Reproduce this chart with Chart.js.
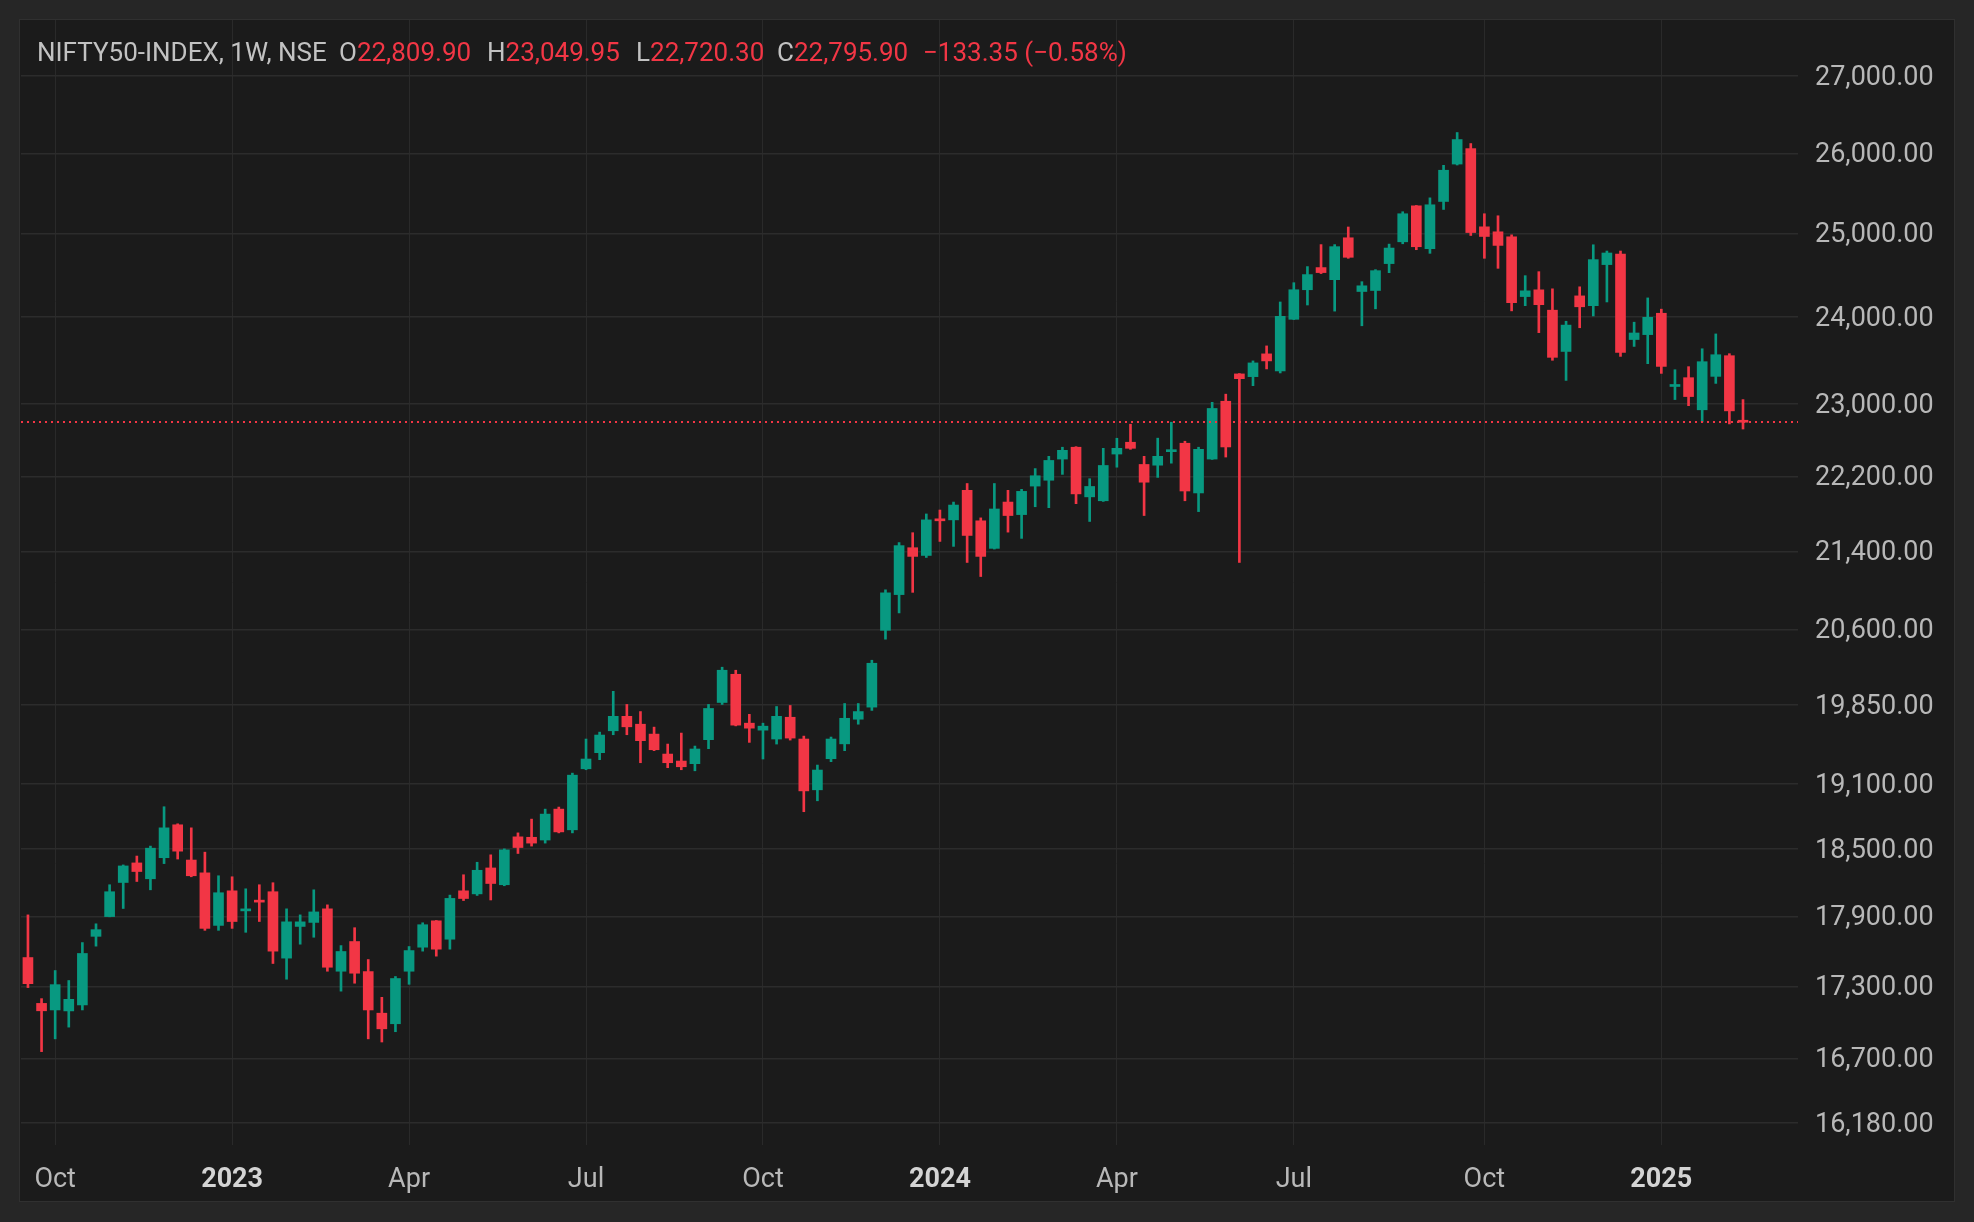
<!DOCTYPE html>
<html>
<head>
<meta charset="utf-8">
<script src="https://cdn.jsdelivr.net/npm/chart.js@4.4.1/dist/chart.umd.min.js"></script>
<style>
  html, body { margin: 0; padding: 0; width: 1974px; height: 1222px; background: #262626; overflow: hidden; }
  #panel { position: absolute; left: 19px; top: 19px; width: 1936px; height: 1183px; box-sizing: border-box;
           border: 1px solid #303030; background: #1b1b1b; }
  #wrap { position: absolute; left: 20px; top: 20px; width: 1934px; height: 1180px; }
  #legend { position: absolute; left: 0; top: 0; font-family: Roboto, "Noto Sans", sans-serif; font-size: 26px; color: #c2c2c2; }
  #legend span { position: absolute; top: 38px; white-space: nowrap; line-height: 28px; }
  .dn { color: #f23645; }
</style>
</head>
<body>
<div id="panel"></div>
<div id="wrap"><canvas id="c" width="1934" height="1180"></canvas></div>
<div id="legend">
  <span style="left:37px">NIFTY50-INDEX, 1W, NSE</span>
  <span style="left:339px">O<i class="dn" style="font-style:normal">22,809.90</i></span>
  <span style="left:487px">H<i class="dn" style="font-style:normal">23,049.95</i></span>
  <span style="left:636px">L<i class="dn" style="font-style:normal">22,720.30</i></span>
  <span style="left:777px">C<i class="dn" style="font-style:normal">22,795.90</i></span>
  <span class="dn" style="left:923px">−133.35 (−0.58%)</span>
</div>
<script>
// weekly candles, first bar = week of 19 Sep 2022
const firstWeek = '2022-09-19';

const opens = [
  17545, 17156, 17101, 17093, 17143, 17728, 17900, 18201, 18376, 18234, 18423, 18722, 18402, 18287, 17823, 18127,
  17950, 18040, 18119, 17540, 17814, 17849, 17968, 17428, 17683, 17425, 17074, 16986, 17428, 17634, 17863, 17703,
  18127, 18100, 18331, 18181, 18612, 18608, 18583, 18866, 18676, 19242, 19394, 19603, 19742, 19666, 19571, 19381,
  19315, 19290, 19518, 19876, 20152, 19676, 19609, 19524, 19733, 19524, 19045, 19337, 19478, 19714, 19831, 20590,
  20953, 21439, 21358, 21744, 21733, 22049, 21723, 21432, 21923, 21789, 22095, 22158, 22389, 22519, 21979, 21937,
  22444, 22574, 22330, 22322, 22470, 22563, 22021, 22389, 23031, 23341, 23310, 23571, 23375, 23973, 24322, 24587,
  24442, 24948, 24301, 24313, 24635, 24899, 25341, 24815, 25395, 25864, 26060, 25082, 25021, 24960, 24241, 24321,
  24080, 23599, 24249, 24133, 24623, 24751, 23737, 23794, 24044, 23198, 23298, 22935, 23313, 23550, 22809.90
];
const highs = [
  17915, 17196, 17434, 17349, 17674, 17837, 18181, 18358, 18438, 18528, 18888, 18731, 18694, 18473, 18261, 18252,
  18145, 18181, 18199, 17968, 17915, 18136, 18003, 17648, 17803, 17528, 17207, 17383, 17640, 17846, 17866, 18089,
  18270, 18382, 18449, 18503, 18648, 18774, 18866, 18885, 19201, 19524, 19590, 19985, 19857, 19788, 19638, 19476,
  19581, 19457, 19857, 20222, 20192, 19761, 19676, 19837, 19847, 19552, 19277, 19543, 19866, 19866, 20291, 21002,
  21493, 21597, 21796, 21838, 21923, 22123, 21754, 22123, 22049, 22060, 22285, 22419, 22519, 22525, 22175, 22507,
  22618, 22774, 22419, 22619, 22796, 22585, 22519, 23019, 23111, 23345, 23490, 23663, 24177, 24406, 24599, 24865,
  24865, 25080, 24418, 24562, 24871, 25268, 25345, 25440, 25848, 26266, 26125, 25243, 25218, 24984, 24490, 24538,
  24333, 23950, 24357, 24863, 24787, 24787, 23939, 24225, 24092, 23389, 23424, 23630, 23802, 23573, 23049.95
];
const lows = [
  17289, 16756, 16861, 16958, 17101, 17643, 17898, 17971, 18210, 18136, 18370, 18411, 18252, 17780, 17780, 17797,
  17763, 17857, 17494, 17360, 17660, 17720, 17428, 17259, 17326, 16861, 16835, 16920, 17317, 17600, 17557, 17617,
  18041, 18086, 18046, 18172, 18461, 18528, 18555, 18648, 18648, 19233, 19328, 19565, 19565, 19299, 19413, 19252,
  19233, 19223, 19432, 19857, 19650, 19492, 19334, 19476, 19514, 18842, 18943, 19309, 19413, 19666, 19799, 20501,
  20766, 20976, 21337, 21505, 21453, 21285, 21139, 21425, 21603, 21537, 21873, 21863, 22222, 21906, 21716, 21930,
  22300, 22496, 21779, 22189, 22344, 21937, 21821, 22385, 22411, 21285, 23207, 23398, 23352, 23970, 24141, 24515,
  24069, 24699, 23897, 24096, 24526, 24875, 24803, 24759, 25296, 25852, 24976, 24699, 24578, 24072, 24133, 23817,
  23497, 23267, 23874, 24012, 24177, 23542, 23657, 23458, 23347, 23050, 22981, 22800, 23233, 22777, 22720.30
];
const closes = [
  17322, 17094, 17314, 17190, 17580, 17786, 18119, 18349, 18299, 18509, 18694, 18482, 18261, 17797, 18110, 17857,
  17962, 18027, 17600, 17854, 17854, 17941, 17462, 17597, 17411, 17101, 16944, 17366, 17605, 17829, 17617, 18060,
  18059, 18310, 18192, 18494, 18515, 18555, 18820, 18657, 19182, 19334, 19562, 19742, 19641, 19508, 19422, 19299,
  19261, 19429, 19818, 20192, 19657, 19628, 19647, 19742, 19533, 19035, 19230, 19524, 19723, 19788, 20261, 20971,
  21461, 21348, 21733, 21723, 21891, 21568, 21348, 21849, 21779, 22038, 22207, 22374, 22485, 22011, 22091, 22319,
  22507, 22507, 22137, 22419, 22485, 22042, 22496, 22950, 22522, 23287, 23467, 23490, 24008, 24322, 24503, 24527,
  24840, 24711, 24369, 24550, 24823, 25243, 24839, 25354, 25786, 26176, 25012, 24964, 24855, 24169, 24309, 24145,
  23531, 23905, 24120, 24683, 24763, 23588, 23813, 23996, 23427, 23218, 23084, 23481, 23561, 22923, 22795.90
];

// right price axis
const priceTicks = [16180, 16700, 17300, 17900, 18500, 19100, 19850, 20600, 21400, 22200, 23000, 24000, 25000, 26000, 27000];
const monthNames = ['Jan','Feb','Mar','Apr','May','Jun','Jul','Aug','Sep','Oct','Nov','Dec'];

const UP = '#089981', DOWN = '#f23645';

const weeks = [];
const t0 = new Date(firstWeek + 'T00:00:00Z');
for (let i = 0; i < closes.length; i++) weeks.push(new Date(t0.getTime() + i * 7 * 86400000));

// first bar of each quarter month gets a grid line + label
const timeTicks = [];
const timeLabels = {};
for (let i = 1; i < weeks.length; i++) {
  const m = weeks[i].getUTCMonth();
  if (m !== weeks[i - 1].getUTCMonth() && m % 3 === 0) {
    timeTicks.push(i);
    timeLabels[i] = m === 0 ? String(weeks[i].getUTCFullYear()) : monthNames[m];
  }
}
const isYear = v => /^\d+$/.test(timeLabels[v] || '');

const colors = closes.map((c, i) => c >= opens[i] ? UP : DOWN);

const lastLine = {
  id: 'lastLine',
  afterDatasetsDraw(chart) {
    const { ctx, chartArea, scales } = chart;
    const y = Math.round(scales.y.getPixelForValue(closes[closes.length - 1]));
    ctx.save();
    ctx.strokeStyle = DOWN;
    ctx.lineWidth = 2;
    ctx.setLineDash([2, 4]);
    ctx.beginPath();
    ctx.moveTo(chartArea.left, y);
    ctx.lineTo(chartArea.right, y);
    ctx.stroke();
    ctx.restore();
  }
};

new Chart(document.getElementById('c'), {
  type: 'bar',
  data: {
    datasets: [{
      label: 'body',
      data: opens.map((o, i) => ({ x: i, y: [o, closes[i]] })),
      backgroundColor: colors,
      barThickness: 10,
      minBarLength: 2,
      grouped: false,
      order: 0
    }, {
      label: 'wick',
      data: lows.map((l, i) => ({ x: i, y: [l, highs[i]] })),
      backgroundColor: colors,
      barThickness: 2,
      grouped: false,
      order: 1
    }]
  },
  options: {
    responsive: false,
    devicePixelRatio: 1,
    animation: false,
    layout: { autoPadding: false, padding: { left: 1, top: 0, right: 0, bottom: 0 } },
    plugins: { legend: { display: false }, tooltip: { enabled: false } },
    scales: {
      x: {
        type: 'linear',
        offset: false,
        min: -0.51,
        max: 130.04,
        afterBuildTicks: s => { s.ticks = timeTicks.map(v => ({ value: v })); },
        afterFit: s => { s.height = 55; s.paddingLeft = 0; s.paddingRight = 0; },
        grid: { color: '#2a2a2a', lineWidth: 1, drawTicks: false, offset: false },
        border: { display: false },
        ticks: {
          padding: 19,
          maxRotation: 0,
          autoSkip: false,
          callback: v => timeLabels[v],
          color: ctx => (ctx.tick && isYear(ctx.tick.value)) ? '#d4d4d4' : '#b8b8b8',
          font: ctx => ({ family: 'Roboto', size: 27, weight: (ctx.tick && isYear(ctx.tick.value)) ? 'bold' : 'normal' })
        }
      },
      y: {
        type: 'logarithmic',
        position: 'right',
        min: 16008,
        max: 27752,
        afterBuildTicks: s => { s.ticks = priceTicks.map(v => ({ value: v })); },
        afterFit: s => { s.width = 156; s.paddingTop = 0; s.paddingBottom = 0; },
        grid: { color: '#2c2c2c', lineWidth: 1.5, drawTicks: false },
        border: { display: false },
        ticks: {
          padding: 17,
          labelOffset: 2,
          color: '#b8b8b8',
          font: { family: 'Roboto', size: 27 },
          callback: v => v.toLocaleString('en-US', { minimumFractionDigits: 2, maximumFractionDigits: 2 })
        }
      }
    }
  },
  plugins: [lastLine]
});
</script>
</body>
</html>
